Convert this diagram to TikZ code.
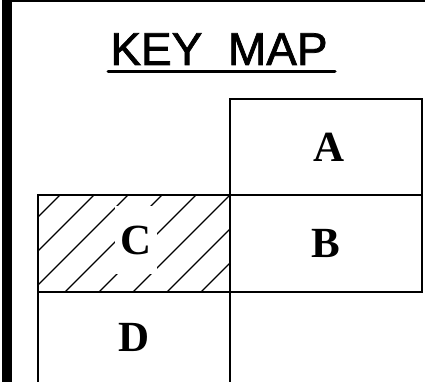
\documentclass[tikz,border=0pt]{standalone}
\usepackage{fontspec}
\setmainfont{Liberation Serif}
\newfontfamily\titlefont[FakeBold=1.6]{Liberation Sans}
\begin{document}
\begin{tikzpicture}[x=1pt,y=-1pt,
  cell/.style={draw=black, line width=1.6pt, rectangle, inner sep=0pt, outer sep=0pt},
  lbl/.style={font=\fontsize{43}{43}\selectfont\bfseries, inner sep=0pt},
  hatchline/.style={line width=1.1pt},
  border/.style={line width=2.5pt}]
\useasboundingbox (0,0) rectangle (425,382);
% frame
\fill (2,0) rectangle (12,382);
\coordinate (tl) at (2,1);
\coordinate (tr) at (425,1);
\draw[border] (tl) -- (tr);
% title
\node[font=\titlefont\fontsize{46}{46}\selectfont, inner sep=0pt, anchor=base] (title) at (219,65) {KEY\ \ MAP};
\coordinate (ul1) at (108,72);
\coordinate (ul2) at (335,72);
\draw[line width=3pt, line cap=round] (ul1) -- (ul2);
% hatching of C
\begin{scope}
  \clip (38,195) rectangle (230,292);
  \foreach \k in {0,...,7} {
    \pgfmathsetmacro{\c}{-37+34*\k}
    \draw[hatchline] (\c,292) -- (\c+97,195);
  }
\end{scope}
% cells
\node[cell, minimum width=192pt, minimum height=96pt] (cellA) at (326,147) {};
\node[cell, minimum width=192pt, minimum height=97pt] (cellB) at (326,243.5) {};
\node[cell, minimum width=192pt, minimum height=97pt] (cellC) at (134,243.5) {};
\node[cell, minimum width=192pt, minimum height=97pt] (cellD) at (134,340.5) {};
% labels
\node[lbl] (A) at (329,147) {A};
\node[lbl] (B) at (326,243.5) {B};
\node[lbl, fill=white, minimum width=42pt, minimum height=68pt] (C) at (136,240) {C};
\node[lbl] (D) at (134,337) {D};
\end{tikzpicture}
\end{document}
